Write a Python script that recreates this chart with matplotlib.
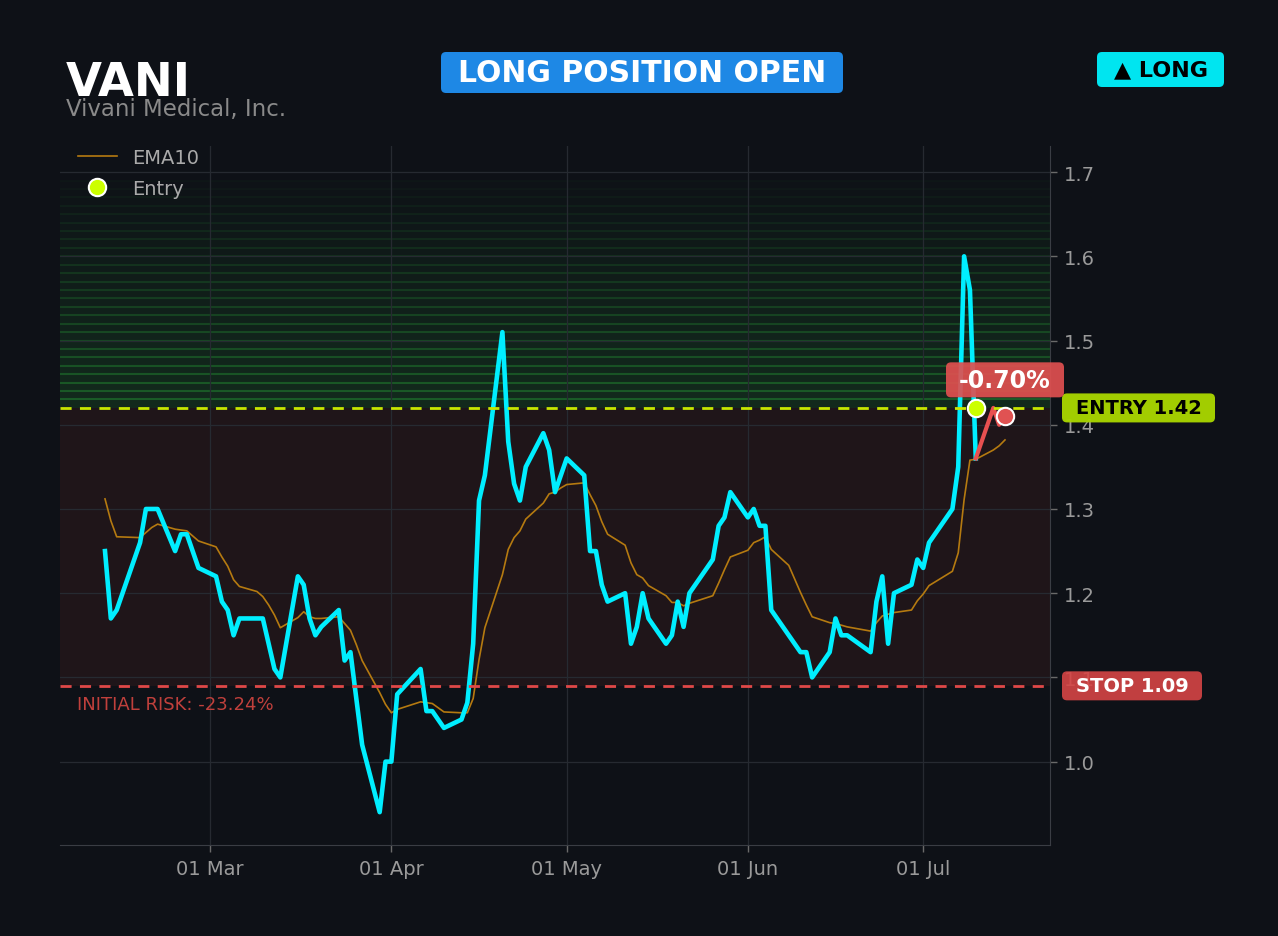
import matplotlib
matplotlib.use("Agg")
import matplotlib.pyplot as plt
import matplotlib.dates as mdates
from matplotlib.patches import FancyBboxPatch
import pandas as pd

YEAR = 2026
ticker = "VANI"
company = "Vivani Medical, Inc."
entry_price = 1.42
stop_price = 1.09

# closing prices up to the entry day
price_dates = ["02-11", "02-12", "02-13", "02-17", "02-18", "02-20", "02-23", "02-24", "02-25", "02-27",
               "03-02", "03-03", "03-04", "03-05", "03-06", "03-10", "03-12", "03-13", "03-16", "03-17",
               "03-18", "03-19", "03-20", "03-23", "03-24", "03-25", "03-27", "03-30", "03-31", "04-01",
               "04-02", "04-06", "04-07", "04-08", "04-09", "04-10", "04-13", "04-14", "04-15", "04-16",
               "04-17", "04-20", "04-21", "04-22", "04-23", "04-24", "04-27", "04-28", "04-29", "05-01",
               "05-04", "05-05", "05-06", "05-07", "05-08", "05-11", "05-12", "05-13", "05-14", "05-15",
               "05-18", "05-19", "05-20", "05-21", "05-22", "05-26", "05-27", "05-28", "05-29", "06-01",
               "06-02", "06-03", "06-04", "06-05", "06-10", "06-11", "06-12", "06-15", "06-16", "06-17",
               "06-18", "06-22", "06-23", "06-24", "06-25", "06-26", "06-29", "06-30", "07-01", "07-02",
               "07-06", "07-07", "07-08", "07-09", "07-10"]
price_vals = [1.25, 1.17, 1.18, 1.26, 1.30, 1.30, 1.25, 1.27, 1.27, 1.23,
              1.22, 1.19, 1.18, 1.15, 1.17, 1.17, 1.11, 1.10, 1.22, 1.21,
              1.17, 1.15, 1.16, 1.18, 1.12, 1.13, 1.02, 0.94, 1.00, 1.00,
              1.08, 1.11, 1.06, 1.06, 1.05, 1.04, 1.05, 1.07, 1.14, 1.31,
              1.34, 1.51, 1.38, 1.33, 1.31, 1.35, 1.39, 1.37, 1.32, 1.36,
              1.34, 1.25, 1.25, 1.21, 1.19, 1.20, 1.14, 1.16, 1.20, 1.17,
              1.14, 1.15, 1.19, 1.16, 1.20, 1.24, 1.28, 1.29, 1.32, 1.29,
              1.30, 1.28, 1.28, 1.18, 1.13, 1.13, 1.10, 1.13, 1.17, 1.15,
              1.15, 1.13, 1.19, 1.22, 1.14, 1.20, 1.21, 1.24, 1.23, 1.26,
              1.30, 1.35, 1.60, 1.56, 1.36]

# prices after the entry
post_dates = ["07-10", "07-13", "07-14", "07-15"]
post_vals = [1.36, 1.42, 1.40, 1.41]

ema_dates = ["02-11", "02-12", "02-13", "02-17", "02-18", "02-19", "02-20", "02-23", "02-24", "02-25",
             "02-26", "02-27", "03-02", "03-03", "03-04", "03-05", "03-06", "03-09", "03-10", "03-11",
             "03-12", "03-13", "03-16", "03-17", "03-18", "03-19", "03-20", "03-23", "03-24", "03-25",
             "03-26", "03-27", "03-30", "03-31", "04-01", "04-02", "04-06", "04-07", "04-08", "04-09",
             "04-10", "04-13", "04-14", "04-15", "04-16", "04-17", "04-20", "04-21", "04-22", "04-23",
             "04-24", "04-27", "04-28", "04-29", "04-30", "05-01", "05-04", "05-05", "05-06", "05-07",
             "05-08", "05-11", "05-12", "05-13", "05-14", "05-15", "05-18", "05-19", "05-20", "05-21",
             "05-22", "05-26", "05-27", "05-28", "05-29", "06-01", "06-02", "06-03", "06-04", "06-05",
             "06-08", "06-09", "06-10", "06-11", "06-12", "06-15", "06-16", "06-17", "06-18", "06-22",
             "06-23", "06-24", "06-25", "06-26", "06-29", "06-30", "07-01", "07-02", "07-06", "07-07",
             "07-08", "07-09", "07-10", "07-13", "07-14", "07-15"]
ema_vals = [1.312, 1.286, 1.267, 1.266, 1.272, 1.278, 1.282, 1.276, 1.275, 1.274,
            1.268, 1.262, 1.255, 1.243, 1.232, 1.216, 1.208, 1.202, 1.196, 1.186,
            1.174, 1.159, 1.171, 1.178, 1.172, 1.170, 1.170, 1.172, 1.164, 1.156,
            1.139, 1.120, 1.082, 1.068, 1.058, 1.062, 1.071, 1.070, 1.069, 1.064,
            1.059, 1.058, 1.058, 1.075, 1.121, 1.159, 1.222, 1.252, 1.266, 1.274,
            1.288, 1.307, 1.318, 1.320, 1.325, 1.329, 1.331, 1.317, 1.304, 1.285,
            1.270, 1.257, 1.236, 1.222, 1.218, 1.209, 1.197, 1.189, 1.189, 1.185,
            1.188, 1.197, 1.212, 1.228, 1.243, 1.251, 1.260, 1.263, 1.267, 1.252,
            1.233, 1.217, 1.201, 1.186, 1.172, 1.165, 1.164, 1.162, 1.160, 1.155,
            1.165, 1.173, 1.175, 1.177, 1.180, 1.191, 1.199, 1.209, 1.226, 1.248,
            1.311, 1.358, 1.359, 1.370, 1.375, 1.382]


def to_dates(md):
    return pd.to_datetime([f"{YEAR}-{d}" for d in md])


BG = "#0e1117"
W, H, DPI = 1278, 937, 100

fig = plt.figure(figsize=(W / DPI, H / DPI), dpi=DPI, facecolor=BG)
ax = fig.add_axes([60 / W, 1 - 846 / H, 990 / W, 699 / H], facecolor=BG)

px = to_dates(price_dates)
pp = to_dates(post_dates)
ex = to_dates(ema_dates)

# zones: red risk area, fading green profit bands
ax.axhspan(stop_price, entry_price, color="#e74c3c", alpha=0.08, lw=0, zorder=0)
n_bands = 28
for i in range(n_bands):
    lo = entry_price + i * 0.01
    a = 0.135 * (1 - i / n_bands)
    ax.axhspan(lo, lo + 0.01, color="#2ecc40", alpha=a, lw=0, zorder=0)
    ax.axhline(lo + 0.01, color="#2ecc40", alpha=min(a * 2.3, 1), lw=1.5, zorder=0)

ax.plot(ex, ema_vals, color="#b57a10", lw=1.2, zorder=3, label="EMA10")
ax.plot(px, price_vals, color="#00eeff", lw=3.3, zorder=4)
ax.plot(pp, post_vals, color="#e85050", lw=3, zorder=4)

ax.axhline(entry_price, color="#c8e600", ls=(0, (4, 3)), lw=2, zorder=5)
ax.axhline(stop_price, color="#e04848", ls=(0, (4, 3)), lw=2, zorder=5)

ax.plot(px[-1], entry_price, "o", ms=12.5, mfc="#ccff00", mec="white", mew=1.5, zorder=6,
        ls="none", label="Entry")
ax.plot(pp[-1], post_vals[-1], "o", ms=12.5, mfc="#e05252", mec="white", mew=1.5, zorder=6)

ax.set_ylim(0.901, 1.731)
ax.set_yticks([1.0, 1.1, 1.2, 1.3, 1.4, 1.5, 1.6, 1.7])
ax.yaxis.tick_right()
ax.xaxis.set_major_locator(mdates.MonthLocator())
ax.xaxis.set_major_formatter(mdates.DateFormatter("%d %b"))
ax.tick_params(colors="#9a9a9a", labelsize=14, length=5, width=1, pad=5)
ax.tick_params(axis="both", color="#6a6a6a")
ax.grid(True, color="#262a31", lw=0.9, zorder=1)
ax.set_axisbelow(True)
for side in ["top", "left"]:
    ax.spines[side].set_visible(False)
for side in ["right", "bottom"]:
    ax.spines[side].set_color("#3a3d44")

leg = ax.legend(loc="upper left", bbox_to_anchor=(0.010, 1.008), frameon=False, fontsize=14,
                labelcolor="#aaaaaa", borderaxespad=0, handlelength=2.0, handletextpad=0.8,
                labelspacing=0.6)

risk = (stop_price - entry_price) / entry_price * 100
ax.text(0.017, stop_price - 0.022, f"INITIAL RISK: {risk:.2f}%", transform=ax.get_yaxis_transform(),
        color="#c0403c", fontsize=13, va="center", ha="left", zorder=7)

# figure header text
fig.text(66 / W, 1 - 96 / H, ticker, color="white", fontsize=33.5, fontweight="bold", va="baseline")
fig.text(66 / W, 1 - 116 / H, company, color="#8a8a8a", fontsize=16.5, va="baseline")


def badge(cx, cy, w, h, label, fc, tc, size, alpha=1.0):
    # cx, cy, w, h in output pixels, origin bottom left
    box = FancyBboxPatch(((cx - w / 2) / DPI, (cy - h / 2) / DPI), w / DPI, h / DPI,
                         boxstyle="round,pad=0,rounding_size=0.05",
                         transform=fig.dpi_scale_trans, fc=fc, ec="none", alpha=alpha, zorder=20)
    fig.add_artist(box)
    fig.text(cx / DPI, cy / DPI, label, transform=fig.dpi_scale_trans, ha="center", va="center",
             color=tc, fontsize=size, fontweight="bold", zorder=21)


badge(642, H - 73.5, 402, 41, "LONG POSITION OPEN", "#1e88e5", "white", 21.5)
badge(1160.5, H - 70.5, 127, 35, "▲ LONG", "#00e5f0", "black", 16)

ax.get_xlim()
entry_y = ax.transData.transform((0, entry_price))[1]
stop_y = ax.transData.transform((0, stop_price))[1]
badge(1138.5, entry_y, 153, 29, f"ENTRY {entry_price:.2f}", "#a8d400", "black", 14, alpha=0.97)
badge(1132, stop_y, 140, 29, f"STOP {stop_price:.2f}", "#d64545", "white", 14, alpha=0.9)

last_x, last_y = ax.transData.transform((mdates.date2num(pp[-1]), post_vals[-1]))
pnl = (post_vals[-1] - entry_price) / entry_price * 100
badge(last_x, last_y + 36.5, 118, 35, f"{pnl:.2f}%", "#e05050", "white", 17, alpha=0.92)

fig.savefig("out.png", dpi=DPI, facecolor=BG)
